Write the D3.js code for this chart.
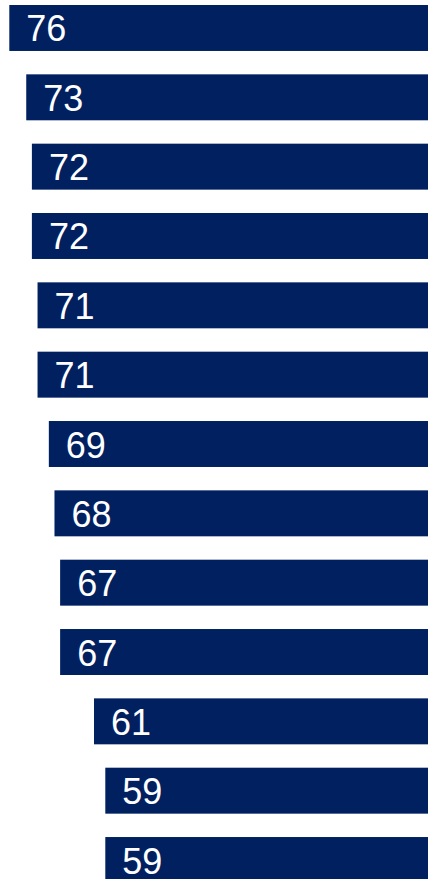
<!DOCTYPE html>
<html>
<head>
<meta charset="utf-8">
<script src="https://cdn.jsdelivr.net/npm/d3@7"></script>
<style>
    body { margin: 0; background: #fff; overflow: hidden; }
    .label { font-family: "Liberation Sans", Arial, sans-serif; font-size: 36px; fill: #fff; }
</style>
</head>
<body>
<div id="chart"></div>
<script>
// bar values, top to bottom
var categories = ["r1", "r2", "r3", "r4", "r5", "r6", "r7", "r8", "r9", "r10", "r11", "r12", "r13"];
var values = [76, 73, 72, 72, 71, 71, 69, 68, 67, 67, 61, 59, 59];

var width = 428, height = 879;

var data = categories.map(function(c, i) { return {cat: c, value: values[i]}; });

var svg = d3.select("#chart").append("svg")
    .attr("width", width)
    .attr("height", height);

// bars grow leftwards from beyond the right edge
var x = d3.scaleLinear()
    .domain([0, 76])
    .range([438.5, 9.3]);

var y = d3.scaleBand()
    .domain(categories)
    .range([5, 883])
    .paddingInner(0.337)
    .paddingOuter(0);

svg.selectAll(".bar")
    .data(data)
    .enter().append("rect")
    .attr("class", "bar")
    .attr("x", function(d) { return x(d.value); })
    .attr("y", function(d) { return y(d.cat); })
    .attr("width", function(d) { return x(0) - x(d.value); })
    .attr("height", y.bandwidth())
    .attr("fill", "#002060");

svg.selectAll(".label")
    .data(data)
    .enter().append("text")
    .attr("class", "label")
    .attr("x", function(d) { return x(d.value) + 17; })
    .attr("y", function(d) { return y(d.cat) + y.bandwidth() / 2 + 13.5; })
    .text(function(d) { return d.value; });
</script>
</body>
</html>
